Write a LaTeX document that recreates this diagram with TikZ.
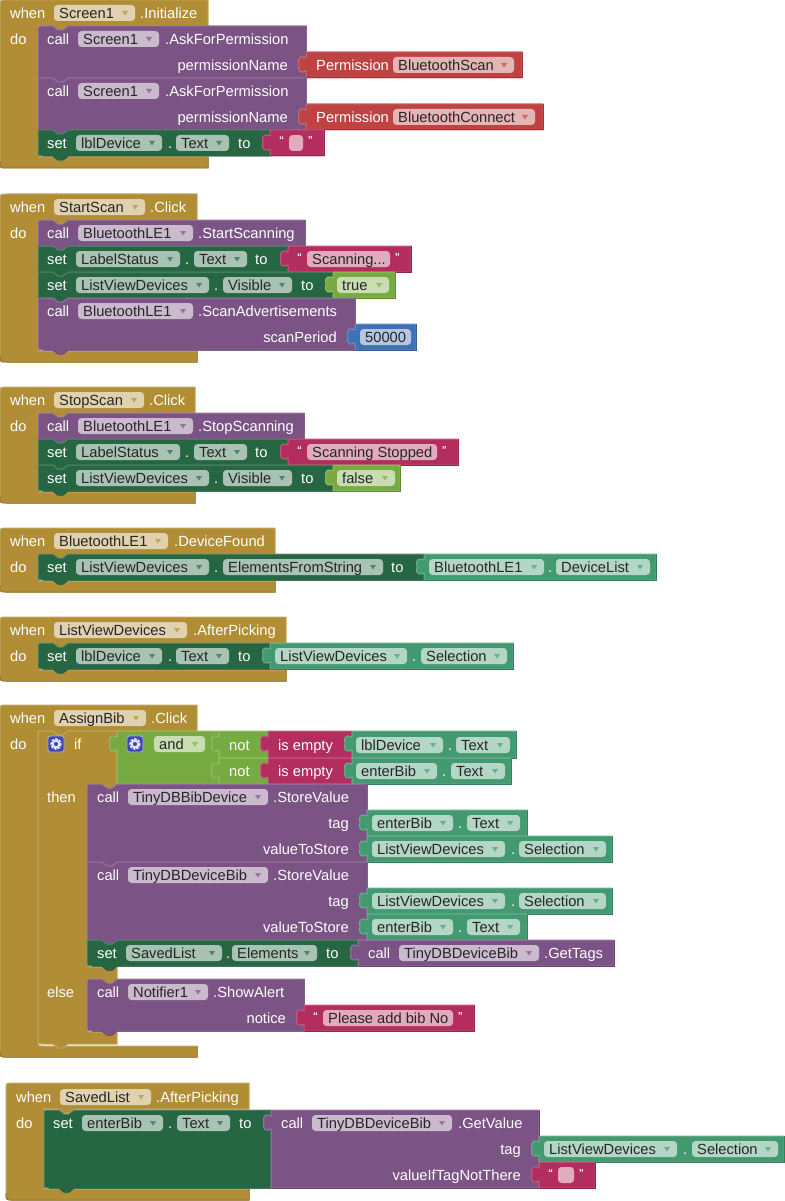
\documentclass[tikz,border=0pt]{standalone}
\usepackage{fontspec}
\setmainfont{Liberation Sans}
\definecolor{evbrown}{HTML}{B18E35}
\definecolor{procpurple}{HTML}{7C5385}
\definecolor{setgreen}{HTML}{266643}
\definecolor{permred}{HTML}{BF4343}
\definecolor{strpink}{HTML}{B32D5E}
\definecolor{logiclime}{HTML}{77AB41}
\definecolor{getteal}{HTML}{439970}
\definecolor{numblue}{HTML}{3F71B5}
\definecolor{gearblue}{HTML}{3F48AE}
\tikzset{
  blk/.style={fill=#1,draw=#1!78!white,line width=1pt,line join=round},
  shade/.style={draw=#1!82!black,line width=1pt},
  lbl/.style={text=white,inner sep=0pt,font=\fontsize{14.7}{16}\selectfont},
  fldtext/.style={text=black!85,inner sep=0pt,anchor=base west,font=\fontsize{14.7}{16}\selectfont},
  quot/.style={text=white,inner sep=0pt,font=\fontsize{10}{12}\bfseries},
}
\newcount\lblno
\newcommand{\nextlbl}{\global\advance\lblno by 1}
% plain white text, left end or right end at x, centred on row yc
\newcommand{\txt}[3]{\nextlbl\node[lbl,anchor=base west] (l\the\lblno) at (#1,#2+5.5) {#3};}
\newcommand{\rtxt}[3]{\nextlbl\node[lbl,anchor=base east] (l\the\lblno) at (#1,#2+5.5) {#3};}
% dropdown field: colour, x1, x2, row, text
\newcommand{\fld}[5]{\nextlbl
  \fill[#1!40!white,rounded corners=3.5] (#2,#4-8) rectangle (#3,#4+8);
  \node[fldtext] (l\the\lblno) at (#2+5,#4+5.5) {#5};
  \fill[#1!80!white] (#3-13,#4-2) -- (#3-7,#4-2) -- (#3-10,#4+2.5) -- cycle;}
% string value: x1, x2, y1, text
\newcommand{\strblk}[4]{\valblk{strpink}{#1}{#3}{#2}{#3+26}
  \nextlbl\node[quot,anchor=base west] (l\the\lblno) at (#1+9,#3+14) {“};
  \fill[strpink!40!white,rounded corners=3.5] (#1+19,#3+5) rectangle (#2-21,#3+21);
  \nextlbl\node[fldtext] (l\the\lblno) at (#1+24,#3+18.5) {#4};
  \nextlbl\node[quot,anchor=base east] (l\the\lblno) at (#2-11,#3+14) {”};}
% stack block: colour, x1, y1, x2, y2, top corner, bottom corner
\newcommand{\stackblk}[7]{
  \draw[blk=#1] (#2,#3+#6) .. controls (#2,#3) .. (#2+#6,#3) -- (#2+15,#3) -- (#2+20,#3+4) -- (#2+25,#3+4) -- (#2+30,#3)
    -- (#4,#3) -- (#4,#5) -- (#2+30,#5) -- (#2+25,#5+4) -- (#2+20,#5+4) -- (#2+15,#5) -- (#2+#7,#5) .. controls (#2,#5) .. (#2,#5-#7) -- cycle;
  \draw[shade=#1] (#4,#3) -- (#4,#5) -- (#2+30,#5) -- (#2+25,#5+4) -- (#2+20,#5+4) -- (#2+15,#5) -- (#2+#7,#5);}
% value block with its tab: colour, x1, y1, x2, y2
\newcommand{\valblk}[5]{
  \draw[blk=#1] (#2,#3) -- (#4,#3) -- (#4,#5) -- (#2,#5) -- (#2,#3+19) .. controls (#2-4,#3+21) and (#2-9,#3+21) .. (#2-7,#3+12.5)
    .. controls (#2-9,#3+4) and (#2-4,#3+4) .. (#2,#3+6) -- cycle;
  \draw[shade=#1] (#4,#3) -- (#4,#5) -- (#2,#5);}
% event block: x0, y0, right end, hole bottom, bottom
\newcommand{\evblk}[5]{
  \draw[blk=evbrown] (#1,#2+7) .. controls (#1,#2) .. (#1+7,#2) -- (#3,#2) -- (#3,#2+26) -- (#1+68,#2+26) -- (#1+63,#2+30) -- (#1+58,#2+30) -- (#1+53,#2+26)
    -- (#1+38,#2+26) -- (#1+38,#4-5) .. controls (#1+38,#4) .. (#1+43,#4) -- (#3,#4) -- (#3,#5) -- (#1+7,#5) .. controls (#1,#5) .. (#1,#5-7) -- cycle;
  \draw[shade=evbrown] (#3,#4) -- (#3,#5) -- (#1+7,#5) .. controls (#1,#5) .. (#1,#5-7);}
\newcommand{\gearicon}[2]{
  \filldraw[fill=gearblue,draw=gearblue!45!white,line width=0.8pt,rounded corners=2.5] (#1,#2) rectangle (#1+16,#2+16);
  \draw[white!85!gearblue,line width=2.4,densely dotted] (#1+8,#2+8) circle (4.6);
  \draw[white!85!gearblue,line width=1.8] (#1+8,#2+8) circle (3.2);}
\begin{document}
\begin{tikzpicture}[x=1pt,y=-1pt]
\useasboundingbox (0,0) rectangle (784,1201);

% Screen1.Initialize
\evblk{0}{0}{208}{157}{168}
\txt{10}{13}{when} \fld{evbrown}{54}{135}{13}{Screen1} \txt{140}{13}{.Initialize}
\txt{10}{39}{do}
\stackblk{procpurple}{38}{26}{306}{78}{5}{0}
\txt{47}{39}{call} \fld{procpurple}{78}{159}{39}{Screen1} \txt{165}{39}{.AskForPermission}
\rtxt{288}{65}{permissionName}
\valblk{permred}{306}{52}{522}{78}
\txt{316}{65}{Permission} \fld{permred}{393}{514}{65}{BluetoothScan}
\stackblk{procpurple}{38}{78}{306}{130}{0}{0}
\txt{47}{91}{call} \fld{procpurple}{78}{159}{91}{Screen1} \txt{165}{91}{.AskForPermission}
\rtxt{288}{117}{permissionName}
\valblk{permred}{306}{104}{543}{130}
\txt{316}{117}{Permission} \fld{permred}{393}{535}{117}{BluetoothConnect}
\stackblk{setgreen}{38}{130}{270}{156}{0}{5}
\txt{47}{143}{set} \fld{setgreen}{76}{162}{143}{lblDevice} \txt{168}{143}{.} \fld{setgreen}{176}{229}{143}{Text} \txt{238}{143}{to}
\strblk{270}{324}{130}{}

% StartScan.Click
\evblk{0}{194}{197}{351}{362}
\txt{10}{207}{when} \fld{evbrown}{54}{145}{207}{StartScan} \txt{150}{207}{.Click}
\txt{10}{233}{do}
\stackblk{procpurple}{38}{220}{305}{246}{5}{0}
\txt{47}{233}{call} \fld{procpurple}{78}{193}{233}{BluetoothLE1} \txt{198}{233}{.StartScanning}
\stackblk{setgreen}{38}{246}{288}{272}{0}{0}
\txt{47}{259}{set} \fld{setgreen}{76}{180}{259}{LabelStatus} \txt{185}{259}{.} \fld{setgreen}{194}{247}{259}{Text} \txt{255}{259}{to}
\strblk{288}{411}{246}{Scanning...}
\stackblk{setgreen}{38}{272}{333}{298}{0}{0}
\txt{47}{285}{set} \fld{setgreen}{76}{209}{285}{ListViewDevices} \txt{214}{285}{.} \fld{setgreen}{223}{292}{285}{Visible} \txt{301}{285}{to}
\valblk{logiclime}{333}{272}{395}{298}
\fld{logiclime}{337}{389}{285}{true}
\stackblk{procpurple}{38}{298}{355}{350}{0}{5}
\txt{47}{311}{call} \fld{procpurple}{78}{193}{311}{BluetoothLE1} \txt{198}{311}{.ScanAdvertisements}
\rtxt{337}{337}{scanPeriod}
\valblk{numblue}{355}{324}{416}{350}
\fill[numblue!40!white,rounded corners=3.5] (360,329) rectangle (411,345);
\node[fldtext] (scanval) at (365,342.5) {50000};

% StopScan.Click
\evblk{0}{387}{195}{492}{503}
\txt{10}{400}{when} \fld{evbrown}{54}{144}{400}{StopScan} \txt{149}{400}{.Click}
\txt{10}{426}{do}
\stackblk{procpurple}{38}{413}{304}{439}{5}{0}
\txt{47}{426}{call} \fld{procpurple}{78}{193}{426}{BluetoothLE1} \txt{198}{426}{.StopScanning}
\stackblk{setgreen}{38}{439}{288}{465}{0}{0}
\txt{47}{452}{set} \fld{setgreen}{76}{180}{452}{LabelStatus} \txt{185}{452}{.} \fld{setgreen}{194}{247}{452}{Text} \txt{255}{452}{to}
\strblk{288}{458}{439}{Scanning Stopped}
\stackblk{setgreen}{38}{465}{333}{491}{0}{5}
\txt{47}{478}{set} \fld{setgreen}{76}{209}{478}{ListViewDevices} \txt{214}{478}{.} \fld{setgreen}{223}{292}{478}{Visible} \txt{301}{478}{to}
\valblk{logiclime}{333}{465}{400}{491}
\fld{logiclime}{337}{395}{478}{false}

% BluetoothLE1.DeviceFound
\evblk{0}{528}{275}{581}{592}
\txt{10}{541}{when} \fld{evbrown}{54}{168}{541}{BluetoothLE1} \txt{174}{541}{.DeviceFound}
\txt{10}{567}{do}
\stackblk{setgreen}{38}{554}{424}{580}{5}{5}
\txt{47}{567}{set} \fld{setgreen}{76}{209}{567}{ListViewDevices} \txt{214}{567}{.} \fld{setgreen}{223}{383}{567}{ElementsFromString} \txt{391}{567}{to}
\valblk{getteal}{424}{554}{656}{580}
\fld{getteal}{429}{544}{567}{BluetoothLE1} \txt{548}{567}{.} \fld{getteal}{556}{650}{567}{DeviceList}

% ListViewDevices.AfterPicking
\evblk{0}{617}{286}{670}{681}
\txt{10}{630}{when} \fld{evbrown}{54}{187}{630}{ListViewDevices} \txt{193}{630}{.AfterPicking}
\txt{10}{656}{do}
\stackblk{setgreen}{38}{643}{270}{669}{5}{5}
\txt{47}{656}{set} \fld{setgreen}{76}{162}{656}{lblDevice} \txt{168}{656}{.} \fld{setgreen}{176}{229}{656}{Text} \txt{238}{656}{to}
\valblk{getteal}{270}{643}{513}{669}
\fld{getteal}{275}{407}{656}{ListViewDevices} \txt{412}{656}{.} \fld{getteal}{421}{507}{656}{Selection}

% AssignBib.Click
\evblk{0}{705}{197}{1046}{1057}
\txt{10}{718}{when} \fld{evbrown}{54}{146}{718}{AssignBib} \txt{151}{718}{.Click}
\txt{10}{744}{do}
% if block
\draw[blk=evbrown] (38,736) .. controls (38,731) .. (43,731) -- (53,731) -- (58,735) -- (63,735) -- (68,731) -- (117,731) -- (117,784)
  -- (112,788) -- (107,788) -- (102,784) -- (87,784) -- (87,962) .. controls (87,967) .. (92,967) -- (117,967) -- (117,979)
  -- (112,983) -- (107,983) -- (102,979) -- (87,979) -- (87,1027) .. controls (87,1032) .. (92,1032) -- (117,1032) -- (117,1044)
  -- (68,1044) -- (63,1048) -- (58,1048) -- (53,1044) -- (43,1044) .. controls (38,1044) .. (38,1039) -- cycle;
\gearicon{48}{736} \txt{74}{744}{if} \txt{47}{797}{then} \txt{47}{992}{else}
\valblk{logiclime}{117}{731}{219}{784}
\gearicon{127}{736} \fld{logiclime}{154}{205}{744}{and}
\valblk{logiclime}{219}{731}{268}{758} \txt{229}{745}{not}
\valblk{logiclime}{219}{758}{268}{784} \txt{229}{771}{not}
\valblk{strpink}{268}{731}{352}{758} \txt{278}{745}{is empty}
\valblk{strpink}{268}{758}{352}{784} \txt{278}{771}{is empty}
\valblk{getteal}{352}{731}{516}{758}
\fld{getteal}{356}{443}{745}{lblDevice} \txt{448}{745}{.} \fld{getteal}{456}{510}{745}{Text}
\valblk{getteal}{352}{758}{511}{784}
\fld{getteal}{356}{437}{771}{enterBib} \txt{442}{771}{.} \fld{getteal}{451}{505}{771}{Text}
\stackblk{procpurple}{87}{784}{367}{862}{5}{0}
\txt{97}{797}{call} \fld{procpurple}{128}{268}{797}{TinyDBBibDevice} \txt{273}{797}{.StoreValue}
\rtxt{349}{823}{tag}
\valblk{getteal}{367}{810}{527}{836}
\fld{getteal}{372}{453}{823}{enterBib} \txt{458}{823}{.} \fld{getteal}{467}{520}{823}{Text}
\rtxt{349}{849}{valueToStore}
\valblk{getteal}{367}{836}{612}{862}
\fld{getteal}{372}{505}{849}{ListViewDevices} \txt{511}{849}{.} \fld{getteal}{519}{606}{849}{Selection}
\stackblk{procpurple}{87}{862}{367}{940}{0}{0}
\txt{97}{875}{call} \fld{procpurple}{128}{268}{875}{TinyDBDeviceBib} \txt{273}{875}{.StoreValue}
\rtxt{349}{901}{tag}
\valblk{getteal}{367}{888}{612}{914}
\fld{getteal}{372}{505}{901}{ListViewDevices} \txt{511}{901}{.} \fld{getteal}{519}{606}{901}{Selection}
\rtxt{349}{927}{valueToStore}
\valblk{getteal}{367}{914}{527}{940}
\fld{getteal}{372}{453}{927}{enterBib} \txt{458}{927}{.} \fld{getteal}{467}{520}{927}{Text}
\stackblk{setgreen}{87}{940}{358}{966}{0}{5}
\txt{97}{953}{set} \fld{setgreen}{126}{222}{953}{SavedList} \txt{226}{953}{.} \fld{setgreen}{232}{317}{953}{Elements} \txt{326}{953}{to}
\valblk{procpurple}{358}{940}{614}{966}
\txt{368}{953}{call} \fld{procpurple}{399}{539}{953}{TinyDBDeviceBib} \txt{544}{953}{.GetTags}
\stackblk{procpurple}{87}{979}{304}{1031}{5}{5}
\txt{97}{992}{call} \fld{procpurple}{128}{208}{992}{Notifier1} \txt{213}{992}{.ShowAlert}
\rtxt{286}{1018}{notice}
\strblk{304}{474}{1005}{Please add bib No}

% SavedList.AfterPicking
\evblk{6}{1083}{249}{1189}{1200}
\txt{16}{1097}{when} \fld{evbrown}{60}{151}{1097}{SavedList} \txt{156}{1097}{.AfterPicking}
\txt{16}{1123}{do}
\stackblk{setgreen}{44}{1110}{271}{1188}{5}{5}
\txt{53}{1123}{set} \fld{setgreen}{82}{163}{1123}{enterBib} \txt{168}{1123}{.} \fld{setgreen}{177}{230}{1123}{Text} \txt{239}{1123}{to}
\valblk{procpurple}{271}{1110}{539}{1188}
\txt{281}{1123}{call} \fld{procpurple}{312}{452}{1123}{TinyDBDeviceBib} \txt{458}{1123}{.GetValue}
\rtxt{521}{1149}{tag}
\valblk{getteal}{539}{1136}{784}{1162}
\fld{getteal}{544}{677}{1149}{ListViewDevices} \txt{683}{1149}{.} \fld{getteal}{692}{778}{1149}{Selection}
\rtxt{521}{1175}{valueIfTagNotThere}
\strblk{539}{595}{1162}{}

\end{tikzpicture}
\end{document}
